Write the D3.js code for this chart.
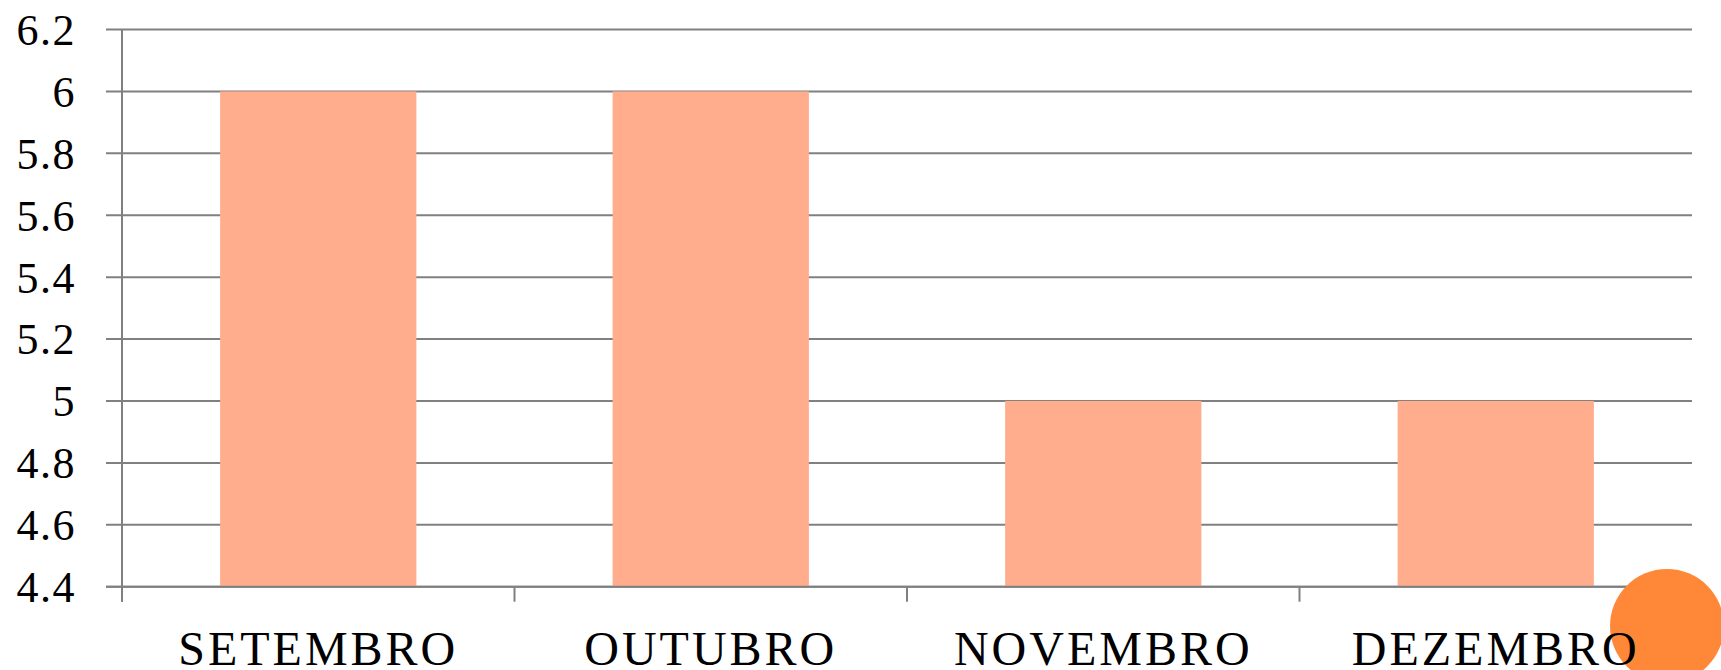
<html>
<head>
    <style>
        body { margin: 0; background: #fff; }
        text { font-family: "Liberation Serif", "DejaVu Serif", serif; fill: #000; }
    </style>
    <script src="https://cdn.jsdelivr.net/npm/d3@7"></script>
</head>
<body>
    <svg id="container" width="1721" height="670"></svg>
</body>
<script>
    // data
    let months = ["SETEMBRO", "OUTUBRO", "NOVEMBRO", "DEZEMBRO"]
    let values = [6, 6, 5, 5]
    let yTicks = [4.4, 4.6, 4.8, 5, 5.2, 5.4, 5.6, 5.8, 6, 6.2]
    let yTickLabels = ["4.4", "4.6", "4.8", "5", "5.2", "5.4", "5.6", "5.8", "6", "6.2"]

    let svg = d3.select("#container")
    let plotLeft = 122, plotRight = 1692, plotTop = 29.5, plotBottom = 586.7

    let x = d3.scaleBand()
        .domain(months)
        .range([plotLeft, plotRight])
        .paddingInner(0.5)
        .paddingOuter(0.25)
    let xb = d3.scaleBand().domain(months).range([plotLeft, plotRight])

    let y = d3.scaleLinear()
        .domain([4.4, 6.2])
        .range([plotBottom, plotTop])

    // gridlines
    svg.append("g").selectAll("line")
        .data(yTicks)
        .enter()
        .append("line")
        .attr("x1", plotLeft - 16)
        .attr("x2", plotRight)
        .attr("y1", d => y(d))
        .attr("y2", d => y(d))
        .attr("stroke", "#808080")
        .attr("stroke-width", 2)

    // bars
    svg.append("g").selectAll("rect")
        .data(values)
        .enter()
        .append("rect")
        .attr("x", (d, i) => x(months[i]))
        .attr("width", x.bandwidth())
        .attr("y", d => y(d))
        .attr("height", d => y(4.4) - y(d))
        .attr("fill", "#FFAD8C")

    // y axis line
    svg.append("line")
        .attr("x1", plotLeft).attr("x2", plotLeft)
        .attr("y1", plotTop).attr("y2", plotBottom + 15)
        .attr("stroke", "#808080").attr("stroke-width", 2)

    // x axis line + ticks
    svg.append("line")
        .attr("x1", plotLeft - 16).attr("x2", plotRight)
        .attr("y1", plotBottom).attr("y2", plotBottom)
        .attr("stroke", "#808080").attr("stroke-width", 2)
    let bounds = months.map(m => xb(m)).concat([plotRight])
    svg.append("g").selectAll("line")
        .data(bounds)
        .enter()
        .append("line")
        .attr("x1", d => d).attr("x2", d => d)
        .attr("y1", plotBottom).attr("y2", plotBottom + 15)
        .attr("stroke", "#808080").attr("stroke-width", 2)

    // y labels
    svg.append("g").selectAll("text")
        .data(yTicks)
        .enter()
        .append("text")
        .attr("x", 76)
        .attr("y", d => y(d))
        .attr("dy", "0.35em")
        .attr("text-anchor", "end")
        .attr("font-size", 44)
        .attr("letter-spacing", 1.5)
        .text((d, i) => yTickLabels[i])

    // decorative circle
    svg.append("circle")
        .attr("cx", 1667).attr("cy", 626).attr("r", 57)
        .attr("fill", "#FF8838")

    // x labels
    svg.append("g").selectAll("text")
        .data(months)
        .enter()
        .append("text")
        .attr("x", d => xb(d) + xb.bandwidth() / 2)
        .attr("y", 665)
        .attr("text-anchor", "middle")
        .attr("font-size", 48)
        .attr("letter-spacing", 3)
        .text(d => d)
</script>
</html>
